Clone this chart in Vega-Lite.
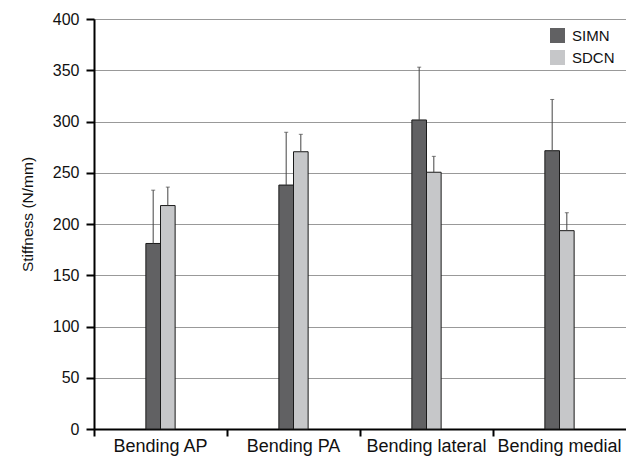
{
  "$schema": "https://vega.github.io/schema/vega-lite/v6.json",
  "autosize": "none",
  "padding": {"left": 94, "top": 19, "right": 0, "bottom": 28},
  "width": 532,
  "height": 410,
  "background": "white",
  "config": {
    "font": "Liberation Sans",
    "view": {"stroke": null}
  },
  "data": {
    "values": [
      {"test": "Bending AP", "group": "SIMN", "stiffness": 181, "upper": 233},
      {"test": "Bending AP", "group": "SDCN", "stiffness": 218, "upper": 236},
      {"test": "Bending PA", "group": "SIMN", "stiffness": 238, "upper": 289.5},
      {"test": "Bending PA", "group": "SDCN", "stiffness": 270.5, "upper": 287.5},
      {"test": "Bending lateral", "group": "SIMN", "stiffness": 301.5, "upper": 353},
      {"test": "Bending lateral", "group": "SDCN", "stiffness": 250.5, "upper": 266},
      {"test": "Bending medial", "group": "SIMN", "stiffness": 271.5, "upper": 321.5},
      {"test": "Bending medial", "group": "SDCN", "stiffness": 193.5, "upper": 211}
    ]
  },
  "encoding": {
    "x": {
      "field": "test", "type": "nominal",
      "sort": ["Bending AP", "Bending PA", "Bending lateral", "Bending medial"],
      "scale": {"paddingInner": 0.78, "paddingOuter": 0.39},
      "axis": {
        "title": null, "labelAngle": 0, "bandPosition": -1.7727,
        "domainColor": "#000", "domainWidth": 2,
        "tickColor": "#000", "tickWidth": 2, "tickSize": 7,
        "labelFontSize": 18, "labelColor": "#111", "labelPadding": 1,
        "labelFont": "Liberation Sans"
      }
    },
    "xOffset": {
      "field": "group", "type": "nominal", "sort": ["SIMN", "SDCN"],
      "scale": {"paddingInner": 0, "paddingOuter": 0}
    }
  },
  "layer": [
    {
      "mark": {"type": "bar", "stroke": "#1a1a1a", "strokeWidth": 1},
      "encoding": {
        "y": {
          "field": "stiffness", "type": "quantitative",
          "scale": {"domain": [0, 400], "nice": false},
          "axis": {
            "title": "Stiffness (N/mm)", "titleFontSize": 15.5, "titleFontWeight": "normal",
            "titleColor": "#111", "titleX": -67, "titleY": 195, "titleBaseline": "middle",
            "values": [0, 50, 100, 150, 200, 250, 300, 350, 400],
            "domainColor": "#000", "domainWidth": 2,
            "tickColor": "#000", "tickWidth": 2, "tickSize": 8,
            "labelFontSize": 16, "labelColor": "#111", "labelPadding": 7,
            "grid": true, "gridColor": "#333", "gridDash": [1, 1], "gridWidth": 1
          }
        },
        "color": {
          "field": "group", "type": "nominal", "sort": ["SIMN", "SDCN"],
          "scale": {"domain": ["SIMN", "SDCN"], "range": ["#616163", "#c6c7c9"]},
          "legend": {
            "title": null, "orient": "none", "legendX": 456, "legendY": 9,
            "padding": 0, "symbolType": "square", "symbolSize": 225,
            "symbolStrokeWidth": 0, "labelFontSize": 15, "labelColor": "#111",
            "labelOffset": 7, "rowPadding": 6
          }
        }
      }
    },
    {
      "mark": {"type": "rule", "color": "#444", "strokeWidth": 1},
      "encoding": {
        "y": {"field": "stiffness", "type": "quantitative"},
        "y2": {"field": "upper"}
      }
    },
    {
      "mark": {"type": "tick", "orient": "horizontal", "size": 4, "thickness": 1, "color": "#444"},
      "encoding": {
        "y": {"field": "upper", "type": "quantitative"}
      }
    }
  ]
}
